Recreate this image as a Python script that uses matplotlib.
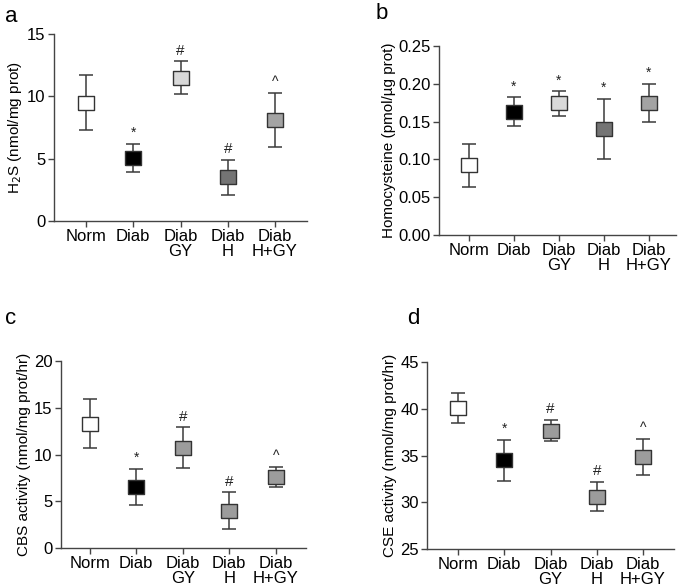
import matplotlib.pyplot as plt

plt.rcParams['font.family'] = ['Liberation Sans', 'DejaVu Sans']

groups = ['Norm', 'Diab', 'Diab\nGY', 'Diab\nH', 'Diab\nH+GY']

# panel a - H2S
h2s_mean = [9.5, 5.05, 11.5, 3.5, 8.1]
h2s_err = [2.2, 1.15, 1.3, 1.4, 2.15]
h2s_sig = ['', '*', '#', '#', '^']

# panel b - homocysteine
hcy_mean = [0.092, 0.163, 0.174, 0.140, 0.175]
hcy_err = [0.028, 0.019, 0.016, 0.040, 0.025]
hcy_sig = ['', '*', '*', '*', '*']

# panel c - CBS activity
cbs_mean = [13.3, 6.5, 10.75, 4.0, 7.6]
cbs_err = [2.6, 1.95, 2.15, 1.95, 1.07]
cbs_sig = ['', '*', '#', '#', '^']

# panel d - CSE activity
cse_mean = [40.1, 34.5, 37.65, 30.6, 34.85]
cse_err = [1.6, 2.2, 1.15, 1.55, 1.95]
cse_sig = ['', '*', '#', '#', '^']

colors_ab = ['white', 'black', '#d9d9d9', '#747474', '#a3a3a3']
colors_cd = ['white', 'black', '#9c9c9c', '#9c9c9c', '#9c9c9c']

# slightly wide square, like the source figure
rect = [(-1, -0.8), (1, -0.8), (1, 0.8), (-1, 0.8), (-1, -0.8)]

fig = plt.figure(figsize=(6.82, 5.87), dpi=100)

panels = [
    ('a', [0.0792, 0.6235, 0.371, 0.3186], h2s_mean, h2s_err, h2s_sig, colors_ab,
     (0, 15), [0, 5, 10, 15], ['0', '5', '10', '15'], r'H$_2$S (nmol/mg prot)', (-0.677, 4.677)),
    ('b', [0.6437, 0.5997, 0.3475, 0.322], hcy_mean, hcy_err, hcy_sig, colors_ab,
     (0, 0.25), [0, 0.05, 0.10, 0.15, 0.20, 0.25],
     ['0.00', '0.05', '0.10', '0.15', '0.20', '0.25'], 'Homocysteine (pmol/µg prot)', (-0.667, 4.6)),
    ('c', [0.0894, 0.0664, 0.3592, 0.3186], cbs_mean, cbs_err, cbs_sig, colors_cd,
     (0, 20), [0, 5, 10, 15, 20], ['0', '5', '10', '15', '20'], 'CBS activity (nmol/mg prot/hr)', (-0.62, 4.65)),
    ('d', [0.6261, 0.0647, 0.3622, 0.3186], cse_mean, cse_err, cse_sig, colors_cd,
     (25, 45), [25, 30, 35, 40, 45], ['25', '30', '35', '40', '45'], 'CSE activity (nmol/mg prot/hr)', (-0.67, 4.67)),
]

for letter, pos, mean, err, sig, cols, ylim, yt, ytl, ylab, xlim in panels:
    ax = fig.add_axes(pos)
    x = list(range(len(groups)))
    span = ylim[1] - ylim[0]
    for i in x:
        ax.errorbar(i, mean[i], yerr=err[i], fmt='none', ecolor='#3a3a3a',
                    elinewidth=1.1, capsize=5, capthick=1.1, zorder=2)
        ax.plot(i, mean[i], marker=rect, markersize=12, markerfacecolor=cols[i],
                markeredgecolor='#333333', markeredgewidth=1.0, linestyle='none', zorder=3)
        if sig[i]:
            ax.text(i, mean[i] + err[i] + span * 0.02, sig[i], ha='center', va='bottom',
                    fontsize=10 if sig[i] != '#' else 11, color='#222222')
    ax.set_xlim(*xlim)
    ax.set_ylim(*ylim)
    ax.set_yticks(yt)
    ax.set_yticklabels(ytl)
    ax.set_xticks(x)
    ax.set_xticklabels(groups, fontsize=12, linespacing=0.95)
    ax.tick_params(axis='y', labelsize=12, length=4, width=1, color='#444444', pad=2)
    ax.tick_params(axis='x', length=4, width=1, color='#444444', pad=2)
    for s in ['top', 'right']:
        ax.spines[s].set_visible(False)
    for s in ['left', 'bottom']:
        ax.spines[s].set_color('#444444')
        ax.spines[s].set_linewidth(1.0)
    ax.set_ylabel(ylab, fontsize=11, labelpad=2)
    ax.patch.set_alpha(0)

fig.text(0.007, 0.99, 'a', fontsize=16, va='top')
fig.text(0.551, 0.995, 'b', fontsize=16, va='top')
fig.text(0.008, 0.475, 'c', fontsize=16, va='top')
fig.text(0.597, 0.475, 'd', fontsize=16, va='top')

fig.savefig('out.png', dpi=100, facecolor='white')
